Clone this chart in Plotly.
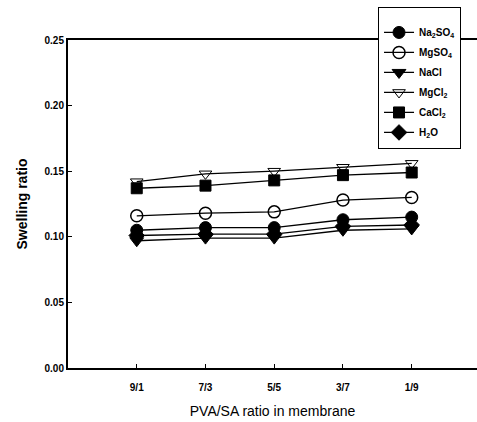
import plotly.graph_objects as go

categories = ["9/1", "7/3", "5/5", "3/7", "1/9"]
positions = [1, 2, 3, 4, 5]
na2so4 = [0.105, 0.107, 0.107, 0.113, 0.115]
mgso4 = [0.116, 0.118, 0.119, 0.128, 0.130]
nacl = [0.097, 0.099, 0.099, 0.105, 0.106]
mgcl2 = [0.142, 0.148, 0.150, 0.153, 0.156]
cacl2 = [0.137, 0.139, 0.143, 0.147, 0.149]
h2o = [0.101, 0.102, 0.102, 0.108, 0.109]

series = [
    ("Na<sub>2</sub>SO<sub>4</sub>", na2so4, "circle", 12, 1.0),
    ("MgSO<sub>4</sub>", mgso4, "circle-open", 12, 1.5),
    ("NaCl", nacl, "triangle-down", 12, 1.0),
    ("MgCl<sub>2</sub>", mgcl2, "triangle-down-open", 11, 1.0),
    ("CaCl<sub>2</sub>", cacl2, "square", 11, 1.0),
    ("H<sub>2</sub>O", h2o, "diamond", 12, 1.0),
]

fig = go.Figure()
for i, (name, vals, sym, size, lw) in enumerate(series):
    fig.add_trace(go.Scatter(
        x=positions, y=vals, name=name, mode="lines+markers",
        legendgroup=f"g{i}",
        line=dict(color="black", width=1.3),
        marker=dict(symbol=sym, size=size, color="black",
                    line=dict(color="black", width=lw)),
    ))

font = "Liberation Sans, Arial, sans-serif"
fig.update_layout(
    width=477, height=422,
    margin=dict(l=68, r=0, t=40, b=54),
    plot_bgcolor="white", paper_bgcolor="white",
    showlegend=True,
    legend=dict(
        x=0.758, y=1.102, xanchor="left", yanchor="top",
        bordercolor="black", borderwidth=1, bgcolor="white",
        font=dict(family=font, size=10, color="black", weight="bold"),
        itemwidth=30, tracegroupgap=1,
        title=dict(text=" ", side="top", font=dict(family=font, size=8)),
    ),
    xaxis=dict(
        range=[0, 5.95], tickvals=positions, ticktext=categories,
        showline=True, linecolor="black", linewidth=2, mirror=True,
        ticks="inside", ticklen=4, tickcolor="black",
        ticklabelstandoff=9,
        showgrid=False, zeroline=False,
        tickfont=dict(family=font, size=10, color="black", weight="bold"),
        title=dict(text="PVA/SA ratio in membrane", standoff=14,
                   font=dict(family=font, size=14, color="black")),
    ),
    yaxis=dict(
        range=[0, 0.25], tickvals=[0, 0.05, 0.10, 0.15, 0.20, 0.25],
        tickformat=".2f",
        showline=True, linecolor="black", linewidth=2, mirror=False,
        ticks="inside", ticklen=4, tickcolor="black",
        showgrid=False, zeroline=False,
        tickfont=dict(family=font, size=10, color="black", weight="bold"),
        title=dict(text="Swelling ratio", standoff=14,
                   font=dict(family=font, size=14, color="black", weight="bold")),
    ),
)
fig.write_html(
    "out.html",
    config={"displayModeBar": False},
    post_script="document.body.style.margin='0';document.body.style.overflow='hidden';",
)
